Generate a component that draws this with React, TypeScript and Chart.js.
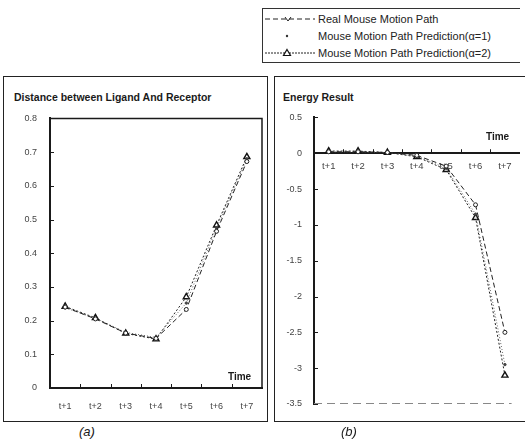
import React, { useEffect, useRef } from "react";
import { Chart, registerables } from "chart.js";
Chart.register(...registerables);

const timeLabels = ["t+1", "t+2", "t+3", "t+4", "t+5", "t+6", "t+7"];

const distReal = [0.24, 0.205, 0.163, 0.147, 0.233, 0.465, 0.672];
const distAlpha1 = [0.238, 0.207, 0.165, 0.15, 0.252, 0.475, 0.68];
const distAlpha2 = [0.242, 0.208, 0.162, 0.145, 0.27, 0.483, 0.686];

const energyReal = [0.02, 0.02, 0.01, -0.03, -0.18, -0.72, -2.5];
const energyAlpha1 = [0.02, 0.02, 0.01, -0.04, -0.21, -0.85, -2.95];
const energyAlpha2 = [0.03, 0.03, 0.01, -0.05, -0.23, -0.9, -3.1];

const legendNames = [
  "Real Mouse Motion Path",
  "Mouse Motion Path Prediction(α=1)",
  "Mouse Motion Path Prediction(α=2)",
];

const FONT = "'Liberation Sans', Arial, sans-serif";
const INK = "#1a1a1a";

function makeDatasets(real: number[], a1: number[], a2: number[]) {
  return [
    {
      label: legendNames[0],
      data: real,
      borderColor: "#222",
      borderWidth: 1,
      borderDash: [5, 3],
      pointStyle: "circle",
      pointRadius: 2,
      pointBorderWidth: 1,
      pointBackgroundColor: "#fff",
      pointBorderColor: "#222",
      tension: 0,
    },
    {
      label: legendNames[1],
      data: a1,
      borderColor: "#666",
      borderWidth: 1,
      borderDash: [1, 2],
      pointStyle: "circle",
      pointRadius: 1.2,
      pointBackgroundColor: "#444",
      pointBorderColor: "#444",
      tension: 0,
    },
    {
      label: legendNames[2],
      data: a2,
      borderColor: "#222",
      borderWidth: 1,
      borderDash: [2, 2],
      pointStyle: "triangle",
      pointRadius: 3.5,
      pointBorderWidth: 1.4,
      pointBackgroundColor: "#fff",
      pointBorderColor: "#111",
      tension: 0,
    },
  ];
}

const decorPlugin = {
  id: "decor",
  afterDraw(chart: any, _args: any, opts: any) {
    const { ctx, chartArea, scales } = chart;
    const xs = scales.x;
    const ys = scales.y;
    const axisY = opts.axisAtZero ? ys.getPixelForValue(0) : chartArea.bottom;
    ctx.save();
    ctx.strokeStyle = INK;
    ctx.lineWidth = 1;
    const n = chart.data.labels.length;
    for (let i = 1; i < n; i++) {
      const px = Math.round((xs.getPixelForValue(i - 1) + xs.getPixelForValue(i)) / 2) + 0.5;
      ctx.beginPath();
      ctx.moveTo(px, axisY);
      ctx.lineTo(px, axisY - 4);
      ctx.stroke();
    }
    ys.ticks.forEach((_t: any, i: number) => {
      const py = Math.round(ys.getPixelForTick(i)) + 0.5;
      ctx.beginPath();
      ctx.moveTo(chartArea.left, py);
      ctx.lineTo(chartArea.left + 4, py);
      ctx.stroke();
    });
    if (opts.frame) {
      ctx.lineWidth = 1.5;
      ctx.beginPath();
      ctx.moveTo(chartArea.left, chartArea.top);
      ctx.lineTo(chartArea.right, chartArea.top);
      ctx.lineTo(chartArea.right, chartArea.bottom);
      ctx.stroke();
    }
    if (opts.dashedBottom) {
      ctx.strokeStyle = "#888";
      ctx.lineWidth = 1;
      ctx.setLineDash([8, 5]);
      ctx.beginPath();
      ctx.moveTo(chartArea.left, chartArea.bottom - 0.5);
      ctx.lineTo(chartArea.right - 8, chartArea.bottom - 0.5);
      ctx.stroke();
    }
    ctx.restore();
  },
};

function fmt(v: number) {
  const r = Math.round(v * 10) / 10;
  return String(r);
}

function DistanceChart() {
  const ref = useRef<HTMLCanvasElement>(null);
  useEffect(() => {
    const chart = new Chart(ref.current as HTMLCanvasElement, {
      type: "line",
      data: { labels: timeLabels, datasets: makeDatasets(distReal, distAlpha1, distAlpha2) as any },
      plugins: [decorPlugin],
      options: {
        animation: false,
        responsive: false,
        maintainAspectRatio: false,
        layout: { padding: { top: 13, right: 6, left: 0, bottom: 0 } },
        plugins: {
          legend: { display: false },
          tooltip: { enabled: false },
          decor: { frame: true },
        } as any,
        scales: {
          x: {
            type: "category",
            offset: true,
            grid: { drawOnChartArea: false, drawTicks: false },
            border: { display: true, color: INK, width: 2 },
            ticks: { color: "#444", font: { size: 9, family: FONT }, padding: 13, maxRotation: 0 },
            afterFit: (s: any) => {
              s.height = 32;
            },
          },
          y: {
            min: 0,
            max: 0.8,
            grid: { drawOnChartArea: false, drawTicks: false },
            border: { display: true, color: INK, width: 2 },
            ticks: {
              stepSize: 0.1,
              color: "#444",
              font: { size: 9, family: FONT },
              padding: 13,
              callback: (v: any) => fmt(Number(v)),
            },
            afterFit: (s: any) => {
              s.width = 50;
            },
          },
        },
      } as any,
    });
    return () => chart.destroy();
  }, []);
  return (
    <canvas
      ref={ref}
      width={268}
      height={320}
      style={{ position: "absolute", left: 0, top: 100, width: 268, height: 320 }}
    />
  );
}

function EnergyChart() {
  const ref = useRef<HTMLCanvasElement>(null);
  useEffect(() => {
    const chart = new Chart(ref.current as HTMLCanvasElement, {
      type: "line",
      data: { labels: timeLabels, datasets: makeDatasets(energyReal, energyAlpha1, energyAlpha2) as any },
      plugins: [decorPlugin],
      options: {
        animation: false,
        responsive: false,
        maintainAspectRatio: false,
        layout: { padding: { top: 13, right: 5, left: 0, bottom: 18 } },
        plugins: {
          legend: { display: false },
          tooltip: { enabled: false },
          decor: { axisAtZero: true, dashedBottom: true },
        } as any,
        scales: {
          x: {
            type: "category",
            offset: true,
            position: { y: 0 },
            grid: { drawOnChartArea: false, drawTicks: false },
            border: { display: true, color: INK, width: 2 },
            ticks: { color: "#444", font: { size: 9.5, family: FONT }, padding: 7, maxRotation: 0 },
          },
          y: {
            min: -3.5,
            max: 0.5,
            grid: { drawOnChartArea: false, drawTicks: false },
            border: { display: true, color: INK, width: 2 },
            ticks: {
              stepSize: 0.5,
              color: "#444",
              font: { size: 9, family: FONT },
              padding: 12,
              callback: (v: any) => fmt(Number(v)),
            },
            afterFit: (s: any) => {
              s.width = 40;
            },
          },
        },
      } as any,
    });
    return () => chart.destroy();
  }, []);
  return (
    <canvas
      ref={ref}
      width={251}
      height={322}
      style={{ position: "absolute", left: 274, top: 100, width: 251, height: 322 }}
    />
  );
}

function LegendSample({ kind }: { kind: number }) {
  return (
    <svg width={54} height={12} style={{ display: "block" }}>
      {kind === 0 && (
        <>
          <line x1={2} y1={6} x2={52} y2={6} stroke="#222" strokeWidth={1} strokeDasharray="5 3" />
          <polyline points="22,4 25,8 28,4" fill="none" stroke="#222" strokeWidth={1} />
        </>
      )}
      {kind === 1 && <circle cx={24} cy={6} r={1.2} fill="#333" />}
      {kind === 2 && (
        <>
          <line x1={2} y1={6} x2={52} y2={6} stroke="#222" strokeWidth={1} strokeDasharray="2 1" />
          <polygon points="24,2.5 27.5,8.5 20.5,8.5" fill="#fff" stroke="#111" strokeWidth={1.2} />
        </>
      )}
    </svg>
  );
}

export default function App() {
  const text = (s: any) => ({ position: "absolute" as const, fontFamily: FONT, color: INK, ...s });
  return (
    <div style={{ position: "absolute", left: 0, top: 0, width: 525, height: 442, background: "#fff", overflow: "hidden" }}>
      {/* legend */}
      <div
        style={{
          position: "absolute",
          left: 262,
          top: 8,
          width: 258,
          height: 55,
          border: "1px solid #333",
          borderRight: "none",
          boxSizing: "border-box",
        }}
      >
        {legendNames.map((name, i) => (
          <div
            key={name}
            style={{
              position: "absolute",
              left: 0,
              top: 3 + i * 17,
              height: 14,
              display: "flex",
              alignItems: "center",
              fontFamily: FONT,
              fontSize: 11,
              color: "#222",
              whiteSpace: "nowrap",
            }}
          >
            <LegendSample kind={i} />
            <span style={{ marginLeft: 1 }}>{name}</span>
          </div>
        ))}
      </div>

      {/* panel borders */}
      <div style={{ position: "absolute", left: 3, top: 76, width: 265, height: 346, border: "1.5px solid #222", boxSizing: "border-box" }} />
      <div style={{ position: "absolute", left: 274, top: 76, width: 260, height: 346, border: "1.5px solid #222", borderRight: "none", boxSizing: "border-box" }} />

      {/* titles */}
      <div style={text({ left: 14, top: 91, fontSize: 10.5, fontWeight: "bold" })}>Distance between Ligand And Receptor</div>
      <div style={text({ left: 283, top: 91, fontSize: 10.5, fontWeight: "bold" })}>Energy Result</div>

      <DistanceChart />
      <EnergyChart />

      <div style={text({ left: 228, top: 371, fontSize: 10, fontWeight: "bold" })}>Time</div>
      <div style={text({ left: 486, top: 131, fontSize: 10, fontWeight: "bold" })}>Time</div>

      <div style={text({ left: 79, top: 424, fontSize: 13, fontStyle: "italic" })}>(a)</div>
      <div style={text({ left: 341, top: 424, fontSize: 13, fontStyle: "italic" })}>(b)</div>
    </div>
  );
}
